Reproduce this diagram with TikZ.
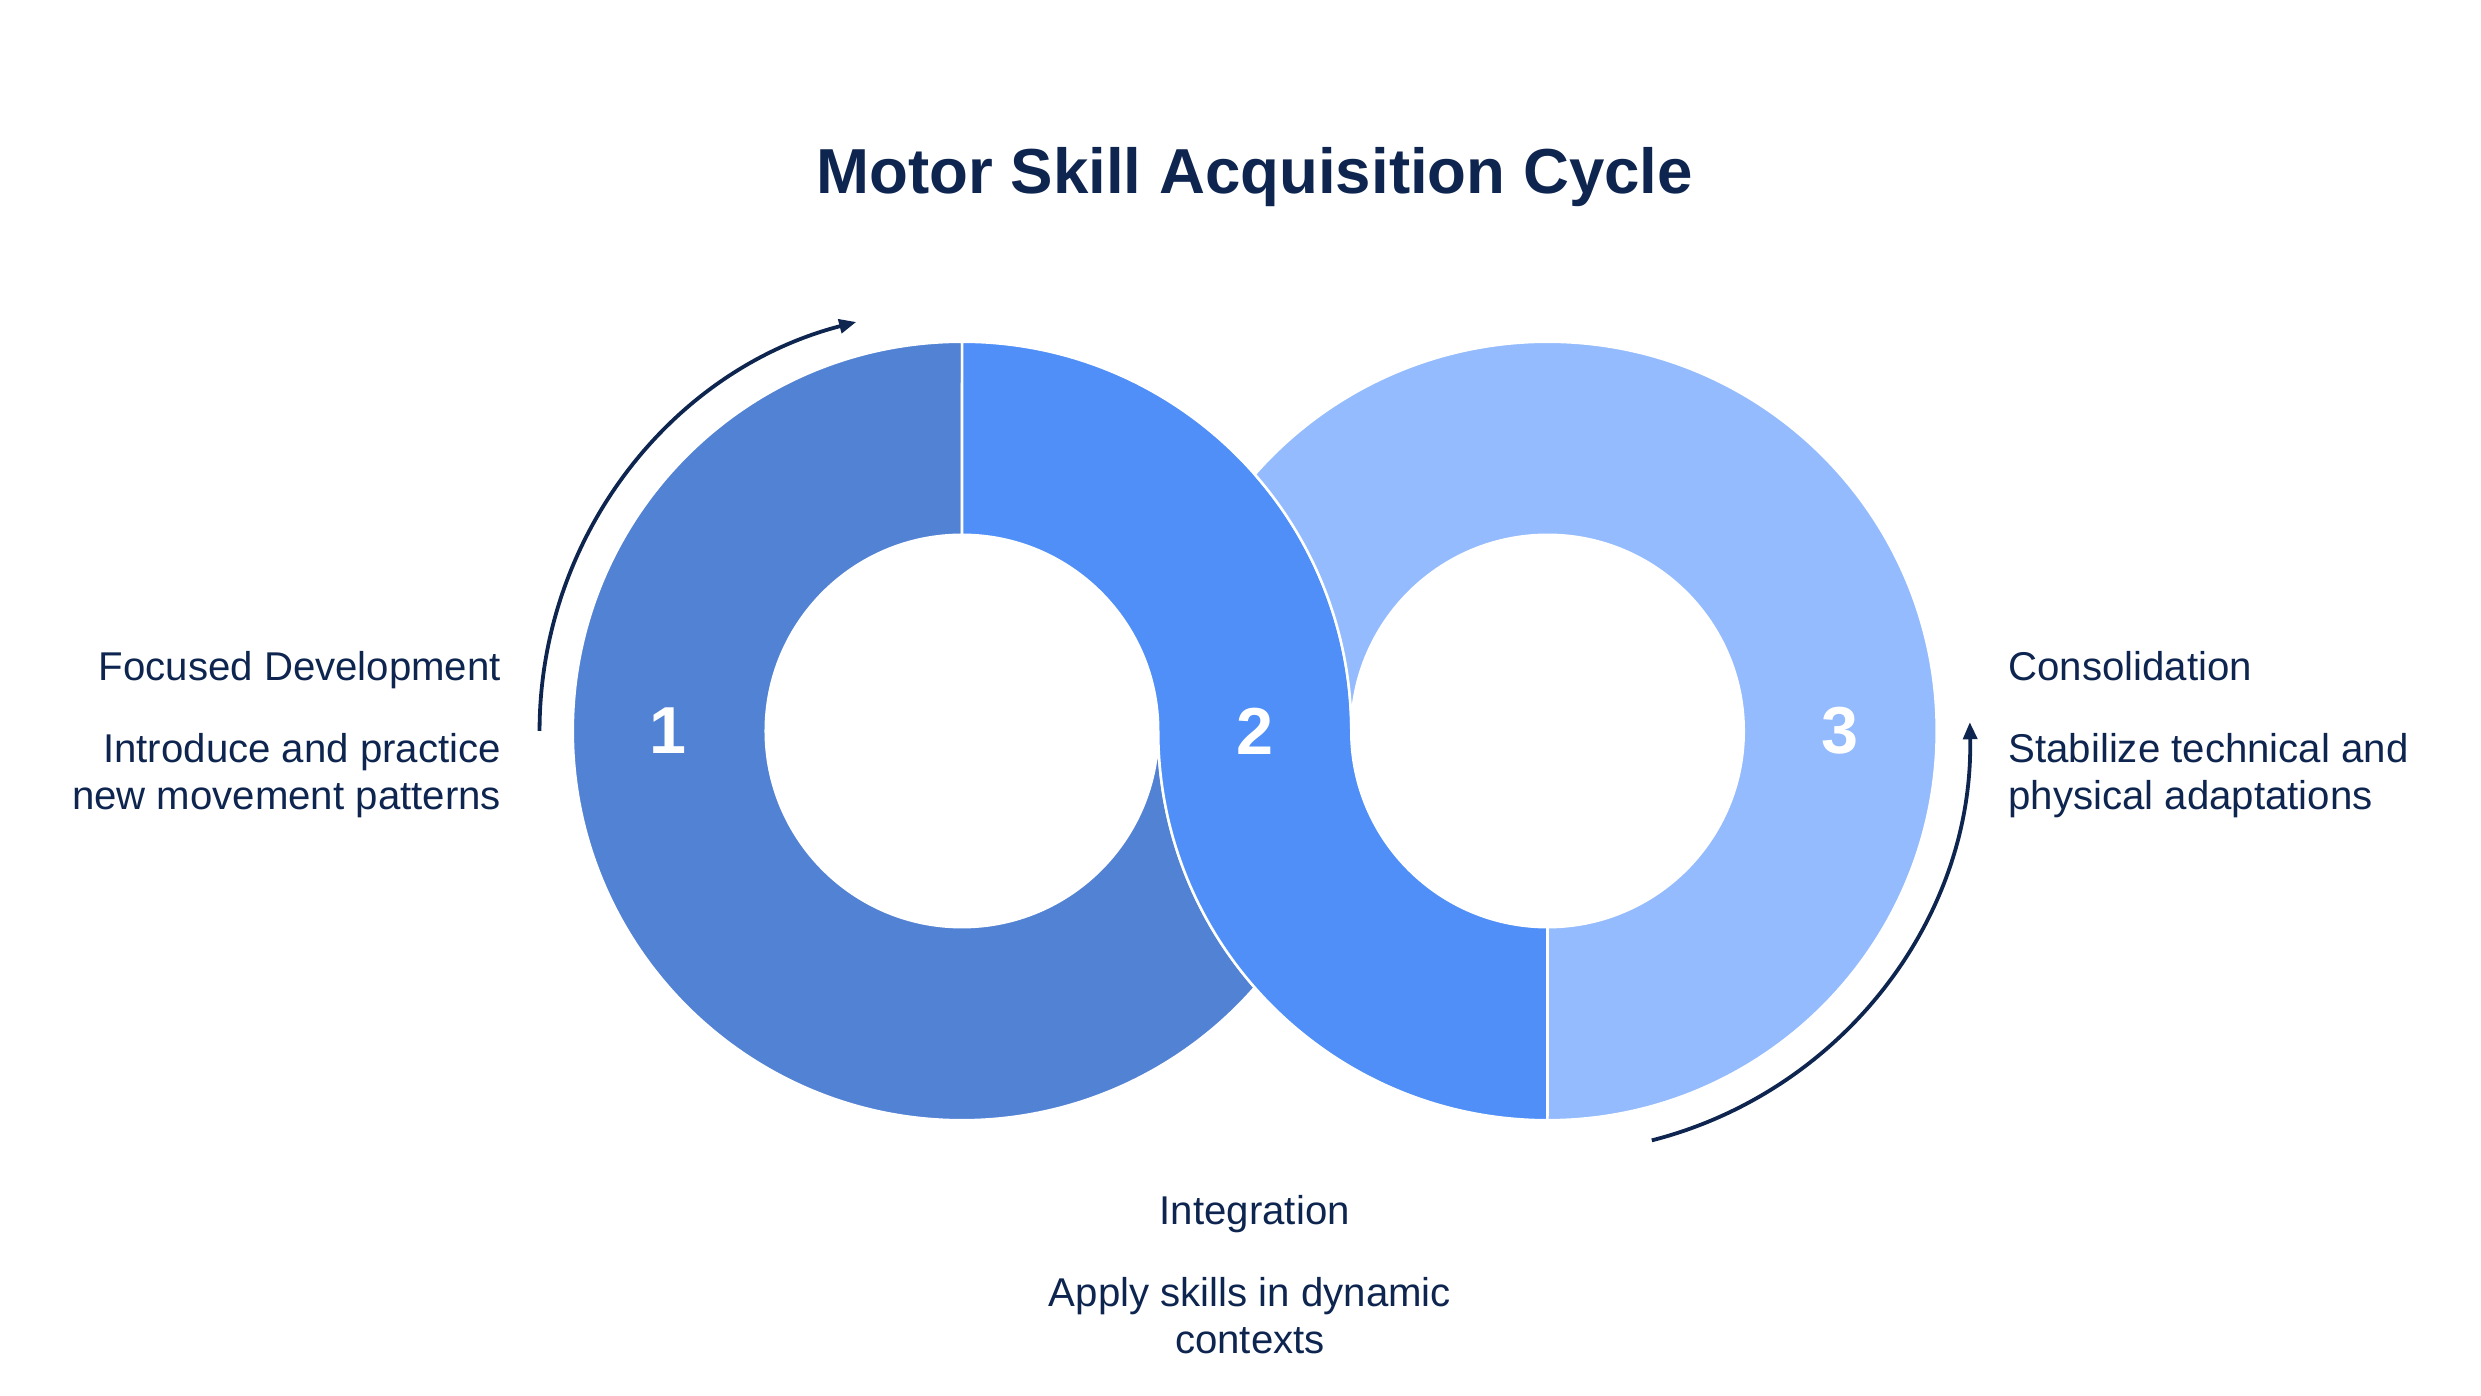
\documentclass[tikz,border=0pt]{standalone}
\usepackage{fontspec}
\setmainfont{Liberation Sans}
\usetikzlibrary{arrows.meta, calc}
\definecolor{ink}{HTML}{0E2550}
\definecolor{segA}{HTML}{5282D4}
\definecolor{segB}{HTML}{4F8FF7}
\definecolor{segC}{HTML}{94BBFD}
\begin{document}
\begin{tikzpicture}[x=0.5pt, y=0.5pt,
    ring/.style={draw=white, line width=0.8pt},
    lab/.style={text=ink, font=\fontsize{12.7}{14.8}\selectfont, inner sep=0pt},
    num/.style={text=white, font=\fontsize{21}{25}\selectfont\bfseries},
    cyc/.style={ink, line width=1.2pt, -{Triangle[length=5.4pt, width=4.4pt]}}]
    \useasboundingbox (0,0) rectangle (1568,882);
    % ring centres, outer radius 246, inner radius 124
    \coordinate (L) at (608,420);
    \coordinate (R) at (978,420);
    % phase 1
    \fill[segA, ring] (608,666) arc[start angle=90, end angle=318.76, radius=246]
      arc[start angle=221.24, end angle=180, radius=246]
      arc[start angle=360, end angle=90, radius=124] -- cycle;
    % phase 2
    \fill[segB, ring] (608,666) arc[start angle=90, end angle=0, radius=246]
      arc[start angle=180, end angle=270, radius=124] -- (978,174)
      arc[start angle=270, end angle=180, radius=246]
      arc[start angle=0, end angle=90, radius=124] -- cycle;
    % phase 3
    \fill[segC, ring] (978,174) arc[start angle=-90, end angle=138.76, radius=246]
      arc[start angle=41.24, end angle=0, radius=246]
      arc[start angle=180, end angle=-90, radius=124] -- cycle;
    \node[num] (n1) at (422,420) {1};
    \node[num] (n2) at (793,420) {2};
    \node[num] (n3) at (1163,420) {3};
    % direction arrows
    \coordinate (a1) at (341,420);
    \coordinate (a3) at ($(R)+(-75.7:267)$);
    \draw[cyc] (a1) arc[start angle=180, end angle=104.5, radius=267];
    \draw[cyc] (a3) arc[start angle=-75.7, end angle=1.2, radius=267];
    \node[text=ink, font=\fontsize{20.1}{24}\selectfont\bfseries, anchor=base] (title) at (793,760) {Motor Skill Acquisition Cycle};
    \node[lab, anchor=base east] (h1) at (317,452) {Focused Development};
    \node[lab, anchor=north east, align=right] (b1) at (317,419) {Introduce and practice\\new movement patterns};
    \node[lab, anchor=base west] (h3) at (1269,452) {Consolidation};
    \node[lab, anchor=north west, align=left] (b3) at (1269,419) {Stabilize technical and\\physical adaptations};
    \node[lab, anchor=base] (h2) at (793,108) {Integration};
    \node[lab, anchor=north, align=center] (b2) at (790,75) {Apply skills in dynamic\\contexts};
\end{tikzpicture}
\end{document}
